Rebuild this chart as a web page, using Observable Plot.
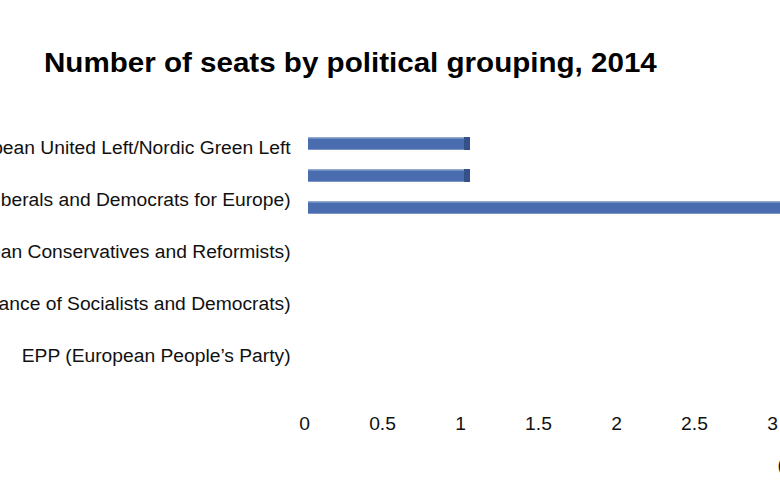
<!DOCTYPE html>
<html>
<head>
<meta charset="utf-8">
<script src="https://cdn.jsdelivr.net/npm/d3@7"></script>
<script src="https://cdn.jsdelivr.net/npm/@observablehq/plot@0.6"></script>
<style>
  html, body { margin: 0; padding: 0; background: #fff; overflow: hidden; width: 780px; height: 500px; }
  #wrap { position: relative; width: 780px; height: 500px; font-family: "Liberation Sans", Arial, sans-serif; }
  #title { position: absolute; left: 44px; top: 47px; font-size: 27px; font-weight: bold; line-height: 32px; color: #000; white-space: nowrap; transform: scaleX(1.095); transform-origin: 0 0; }
  #chart { position: absolute; left: 0; top: 100px; }
  #chart svg { position: absolute; left: 0; top: 0; }
</style>
</head>
<body>
<div id="wrap">
  <div id="title">Number of seats by political grouping, 2014</div>
  <div id="chart"></div>
</div>
<script>
// Visible category labels (top to bottom)
const groups = [
  "GUE/NGL (European United Left/Nordic Green Left",
  "ALDE (Alliance of Liberals and Democrats for Europe)",
  "ECR (European Conservatives and Reformists)",
  "S&D (Progressive Alliance of Socialists and Democrats)",
  "EPP (European People\u2019s Party)"
];
// Bars as drawn (their rows are offset from the labels in the original)
const barRows = ["GUE/NGL", "Greens/EFA", "ALDE"];
const barValues = [1, 1, 4];
const xTicks = [0, 0.5, 1, 1.5, 2, 2.5, 3, 3.5, 4, 4.5, 5];
const xLabel = "(number of seats)";
const xMax = 5;

const bars = barRows.map((r, i) => ({row: r, value: barValues[i]}));

const font = "\"Liberation Sans\", Arial, sans-serif";

// Chart A: axes and labels (horizontally stretched like the reference's text)
const S = 1.07;
const chartA = Plot.plot({
  width: 1029, height: 400,
  marginLeft: 284.1, marginRight: 16, marginTop: 22, marginBottom: 118,
  style: {maxWidth: "none", overflow: "visible", fontFamily: font, background: "transparent", transform: `scaleX(${S})`, transformOrigin: "0 0"},
  x: {domain: [0, xMax]},
  y: {type: "band", domain: groups, padding: 0},
  marks: [
    Plot.axisY({tickSize: 0, tickPadding: 13, fontSize: 18, label: null, fill: "#111"}),
    Plot.axisX({ticks: xTicks, tickSize: 0, tickPadding: 35, fontSize: 18, tickFormat: d => String(d), label: null, fill: "#111"}),
    Plot.text([xLabel], {frameAnchor: "bottom-left", text: d => d, textAnchor: "start", dx: 442, dy: 88, fontSize: 18, fill: "#111"})
  ]
});

// Chart B: the 3-D styled bars
const chartB = Plot.plot({
  width: 1100, height: 400,
  marginLeft: 304, marginRight: 16, marginTop: 26, marginBottom: 276,
  style: {maxWidth: "none", overflow: "visible", fontFamily: font, background: "transparent"},
  x: {domain: [0, xMax], axis: null},
  y: {domain: barRows, paddingInner: 0.6, paddingOuter: 0.3, axis: null},
  marks: [
    Plot.barX(bars, {y: "row", x: "value", fill: "#4a6daf", dx: 4}),
    Plot.barX(bars, {y: "row", x: "value", fill: "#93aad3", dx: 4, insetBottom: 11.5}),
    Plot.barX(bars, {y: "row", x: "value", fill: "#7d96c6", dx: 4, insetTop: 12}),
    Plot.tickX(bars, {y: "row", x: "value", stroke: "#34518a", strokeWidth: 6, dx: 6.5})
  ]
});

document.getElementById("chart").append(chartA, chartB);
</script>
</body>
</html>
